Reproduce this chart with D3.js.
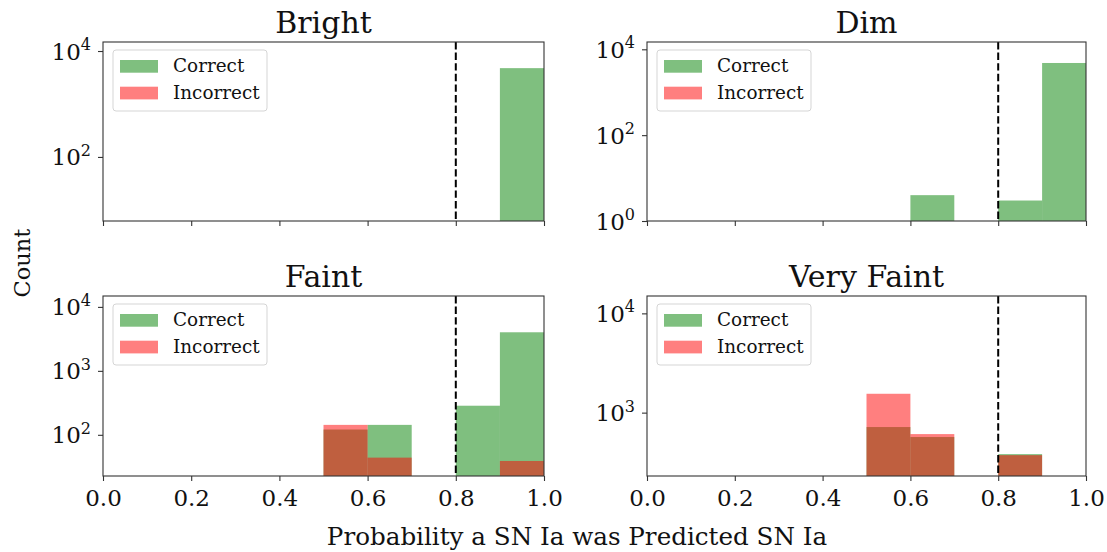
<!DOCTYPE html>
<html>
<head>
<meta charset="utf-8">
<script src="https://cdn.jsdelivr.net/npm/d3@7"></script>
<style>
  html, body { margin: 0; padding: 0; background: #fff; }
  svg { display: block; }
  text { font-family: "DejaVu Serif", serif; fill: #111; }
</style>
</head>
<body>
<svg id="chart" width="1107" height="552"></svg>
<script>
// ---------------- data ----------------
const binEdges = [0.0, 0.1, 0.2, 0.3, 0.4, 0.5, 0.6, 0.7, 0.8, 0.9, 1.0];
const panelTitles = ["Bright", "Dim", "Faint", "Very Faint"];
const seriesNames = ["Correct", "Incorrect"];

const brightCorrect     = [0, 0, 0, 0, 0, 0, 0, 0, 0, 4750];
const brightIncorrect   = [0, 0, 0, 0, 0, 0, 0, 0, 0, 0];
const dimCorrect        = [0, 0, 0, 0, 0, 0, 4, 0, 3, 4800];
const dimIncorrect      = [0, 0, 0, 0, 0, 0, 0, 0, 0, 0];
const faintCorrect      = [0, 0, 0, 0, 0, 121, 143, 0, 285, 4010];
const faintIncorrect    = [0, 0, 0, 0, 0, 143, 44, 0, 0, 39];
const veryFaintCorrect  = [0, 0, 0, 0, 0, 716, 568, 0, 382, 0];
const veryFaintIncorrect= [0, 0, 0, 0, 0, 1549, 608, 0, 373, 0];

const yLow  = [6.17, 1, 22.7, 230];      // lower y limit per panel
const yHigh = [14800, 14800, 14800, 14960];
const yTicks = [[100, 10000], [1, 100, 10000], [100, 1000, 10000], [1000, 10000]];
const xTicks = [0.0, 0.2, 0.4, 0.6, 0.8, 1.0];
const threshold = 0.8;

const xLabel = "Probability a SN Ia was Predicted SN Ia";
const yLabel = "Count";

// ---------------- layout ----------------
const panelX = [[103, 544], [647, 1086], [103, 544], [647, 1086]];
const panelY = [[42, 221], [42, 221], [296, 476], [296, 476]];
const showXLabels = [false, false, true, true];
const correctSets = [brightCorrect, dimCorrect, faintCorrect, veryFaintCorrect];
const incorrectSets = [brightIncorrect, dimIncorrect, faintIncorrect, veryFaintIncorrect];

const colCorrect = "#008000";
const colIncorrect = "#ff0000";
const svg = d3.select("#chart");

panelTitles.forEach((title, i) => {
  const [x0, x1] = panelX[i];
  const [y0, y1] = panelY[i];
  const x = d3.scaleLinear().domain([0, 1]).range([x0, x1]);
  const y = d3.scaleLog().domain([yLow[i], yHigh[i]]).range([y1, y0]);
  const g = svg.append("g");

  const clipId = "clip" + i;
  g.append("clipPath").attr("id", clipId)
    .append("rect").attr("x", x0).attr("y", y0).attr("width", x1 - x0).attr("height", y1 - y0);
  const plot = g.append("g").attr("clip-path", `url(#${clipId})`);

  const drawBars = (vals, color) => {
    const data = vals.map((v, k) => ({ v, a: binEdges[k], b: binEdges[k + 1] })).filter(d => d.v > 0);
    plot.selectAll(null).data(data).enter().append("rect")
      .attr("x", d => x(d.a))
      .attr("width", d => x(d.b) - x(d.a))
      .attr("y", d => y(d.v))
      .attr("height", d => y1 - y(d.v))
      .attr("fill", color)
      .attr("fill-opacity", 0.5);
  };
  drawBars(correctSets[i], colCorrect);
  drawBars(incorrectSets[i], colIncorrect);

  // threshold line
  g.append("line")
    .attr("x1", x(threshold)).attr("x2", x(threshold))
    .attr("y1", y0).attr("y2", y1)
    .attr("stroke", "#000").attr("stroke-width", 2)
    .attr("stroke-dasharray", "7.4,3.2");

  // frame
  g.append("rect").attr("x", x0).attr("y", y0).attr("width", x1 - x0).attr("height", y1 - y0)
    .attr("fill", "none").attr("stroke", "#333").attr("stroke-width", 1.1);

  // x axis
  const xAxis = d3.axisBottom(x).tickValues(xTicks).tickSize(5).tickPadding(9)
    .tickFormat(showXLabels[i] ? d3.format(".1f") : () => "");
  const xg = g.append("g").attr("transform", `translate(0,${y1})`).call(xAxis);
  xg.select(".domain").remove();
  xg.selectAll(".tick line").attr("stroke", "#333").attr("stroke-width", 1.1);
  xg.selectAll(".tick text").attr("font-family", "DejaVu Serif").attr("font-size", 23).attr("fill", "#111");

  // y axis
  const yAxis = d3.axisLeft(y).tickValues(yTicks[i]).tickSize(5).tickFormat(() => "");
  const yg = g.append("g").attr("transform", `translate(${x0},0)`).call(yAxis);
  yg.select(".domain").remove();
  yg.selectAll(".tick line").attr("stroke", "#333").attr("stroke-width", 1.1);
  yTicks[i].forEach(t => {
    const ty = y(t);
    const exp = Math.round(Math.log10(t));
    const tx = g.append("text")
      .attr("x", x0 - 12).attr("y", ty + 8.5)
      .attr("text-anchor", "end")
      .attr("font-size", 23);
    tx.append("tspan").text("10");
    tx.append("tspan").attr("font-size", 16).attr("dy", -9.5).text(String(exp));
  });

  // title
  g.append("text")
    .attr("x", (x0 + x1) / 2).attr("y", y0 - 9.5)
    .attr("text-anchor", "middle").attr("font-size", 30)
    .text(title);

  // legend
  const lg = g.append("g").attr("transform", `translate(${x0},${y0})`);
  lg.append("rect").attr("x", 10).attr("y", 8).attr("width", 154).attr("height", 61)
    .attr("rx", 3).attr("fill", "#fff").attr("fill-opacity", 0.8)
    .attr("stroke", "#d5d5d5").attr("stroke-width", 1);
  [colCorrect, colIncorrect].forEach((c, k) => {
    lg.append("rect").attr("x", 17).attr("y", 18 + k * 26.7).attr("width", 38).attr("height", 12.7)
      .attr("fill", c).attr("fill-opacity", 0.5);
    lg.append("text").attr("x", 70).attr("y", 30.3 + k * 26.7)
      .attr("font-size", 18.4).text(seriesNames[k]);
  });
});

// shared labels
svg.append("text")
  .attr("transform", "translate(30,263) rotate(-90)")
  .attr("text-anchor", "middle").attr("font-size", 22.5)
  .text(yLabel);
svg.append("text")
  .attr("x", 577).attr("y", 545)
  .attr("text-anchor", "middle").attr("font-size", 24.6)
  .text(xLabel);
</script>
</body>
</html>
